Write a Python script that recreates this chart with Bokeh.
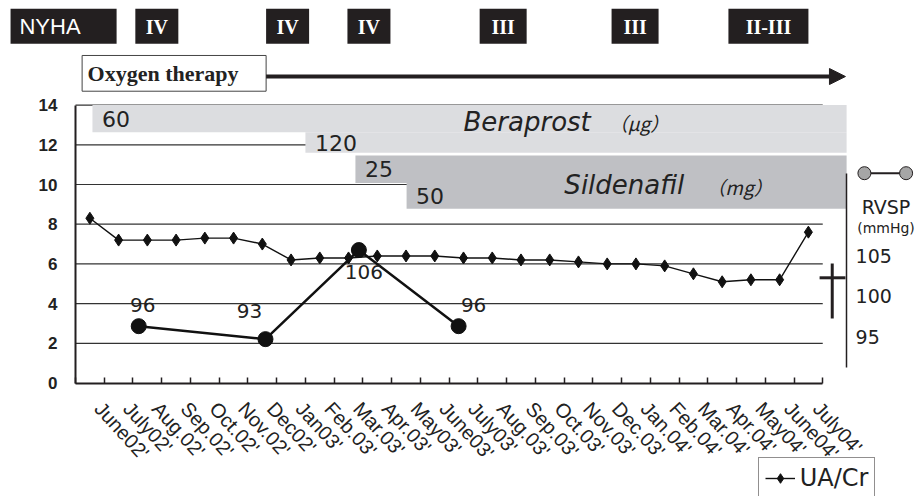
import math
from bokeh.plotting import figure
from bokeh.models import (Range1d, LinearAxis, FixedTicker, ColumnDataSource,
                          Legend, LegendItem, Arrow, NormalHead)
from bokeh.core.properties import value
from bokeh.embed import file_html
from bokeh.resources import INLINE

# ---------------- data ----------------
months = ["June02'", "July02'", "Aug.02'", "Sep.02'", "Oct.02'", "Nov.02'", "Dec02'",
          "Jan03'", "Feb.03'", "Mar.03'", "Apr.03'", "May03'", "June03'", "July03'",
          "Aug.03'", "Sep.03'", "Oct.03'", "Nov.03'", "Dec.03'", "Jan.04'", "Feb.04'",
          "Mar.04'", "Apr.04'", "May04'", "June04'", "July04'"]
ua_cr = [8.3, 7.2, 7.2, 7.2, 7.3, 7.3, 7.0, 6.2, 6.3, 6.3, 6.4, 6.4, 6.4,
         6.3, 6.3, 6.2, 6.2, 6.1, 6.0, 6.0, 5.9, 5.5, 5.1, 5.2, 5.2, 7.6]

rvsp_month = [2.20, 6.61, 9.86, 13.33]          # position on month axis
rvsp_reading = [96.3, 94.7, 105.7, 96.3]        # as read on the RVSP axis
rvsp_labels = ["96", "93", "106", "96"]

nyha_class = ["IV", "IV", "IV", "III", "III", "II-III"]
nyha_month = [2.83, 7.38, 10.21, 14.88, 19.47, 24.11]

oxygen_start = 0.23

beraprost_start = [0.59, 8.0]
beraprost_dose = ["60", "120"]
sildenafil_start = [9.74, 11.52]
sildenafil_dose = ["25", "50"]

left_ticks = [0, 2, 4, 6, 8, 10, 12, 14]
rvsp_ticks = [95, 100, 105]

ref_low, ref_mid, ref_high = 3.25, 5.3, 6.02

# ---------------- layout / style ----------------
PXX = 28.74   # px per month
N = len(months)
XR = 26.83    # right edge of treatment bars / RVSP axis
BLACK = "#231f20"
LABEL_SHIFT = 0.3

p = figure(width=921, height=496,
           x_range=Range1d(-2.6096, 29.436), y_range=Range1d(-5.718, 19.270),
           x_axis_type=None, y_axis_type=None, output_backend="svg",
           toolbar_location=None, min_border=0)
p.outline_line_color = None
p.background_fill_color = "white"
p.border_fill_color = "white"
p.extra_y_ranges = {"rvsp": Range1d(75.27, 136.51)}

centers = [i + 0.5 for i in range(N)]

# gridlines
grid_y = [t for t in left_ticks if t > 0]
p.segment(x0=[0] * len(grid_y), x1=[N] * len(grid_y), y0=grid_y, y1=grid_y,
          line_color="#333333", line_width=1.2)

# treatment bars
ber_top = [14.0, 12.63]
ber_bot = [12.63, 11.6]
sil_top = [11.46, 10.07]
sil_bot = [10.07, 8.78]
p.quad(left=beraprost_start, right=[XR] * 2, top=ber_top, bottom=ber_bot,
       fill_color="#dcdde0", line_color=None)
p.quad(left=sildenafil_start, right=[XR] * 2, top=sil_top, bottom=sil_bot,
       fill_color="#bfc0c4", line_color=None)
dose_x = [s + 0.33 for s in beraprost_start + sildenafil_start]
dose_y = [(a + b) / 2 for a, b in zip(ber_top + sil_top, ber_bot + sil_bot)]
p.text(x=dose_x, y=dose_y, text=beraprost_dose + sildenafil_dose,
       text_font=value("DejaVu Sans"), text_font_size="22px", text_color="#222222",
       text_align="left", text_baseline="middle")
p.text(x=[13.5, 17.01], y=[13.16, 9.95], text=["Beraprost", "Sildenafil"],
       text_font=value("DejaVu Sans"), text_font_style="italic", text_font_size="26px",
       text_color="#222222", text_align="left", text_baseline="middle")
p.text(x=[18.55, 21.95], y=[13.12, 9.9], text=["（μg）", "（mg）"],
       text_font=value("Noto Sans CJK JP"), text_font_style="italic", text_font_size="19px",
       text_color="#222222", text_align="left", text_baseline="middle")

# NYHA row
box_w = {"IV": 43, "III": 47, "II-III": 80}
nyha_l = [m - box_w[c] / 2 / PXX for m, c in zip(nyha_month, nyha_class)]
nyha_r = [m + box_w[c] / 2 / PXX for m, c in zip(nyha_month, nyha_class)]
p.quad(left=[-2.26] + nyha_l, right=[1.43] + nyha_r, top=18.85, bottom=17.09,
       fill_color=BLACK, line_color=None)
p.text(x=nyha_month, y=17.93, text=nyha_class, text_color="white",
       text_font=value("Liberation Serif"), text_font_style="bold", text_font_size="20px",
       text_align="center", text_baseline="middle")
p.text(x=[-1.95], y=[17.95], text=["NYHA"], text_color="white",
       text_font=value("Liberation Sans"), text_font_size="22px",
       text_align="left", text_baseline="middle")

# oxygen therapy
ox_right = oxygen_start + 184 / PXX
p.quad(left=[oxygen_start], right=[ox_right], top=16.5, bottom=14.7,
       fill_color="white", line_color="#444444", line_width=1)
p.text(x=[oxygen_start + 0.19], y=[15.58], text=["Oxygen therapy"],
       text_font=value("Liberation Serif"), text_font_style="bold", text_font_size="22px",
       text_color="#222222", text_align="left", text_baseline="middle")
p.add_layout(Arrow(end=NormalHead(size=16, fill_color=BLACK, line_color=BLACK),
                   x_start=ox_right, y_start=15.44, x_end=26.79, y_end=15.44,
                   line_width=4, line_color=BLACK))

# UA/Cr series
ua_line = p.line(x=centers, y=ua_cr, line_color="#111111", line_width=1.4)
ua_pts = p.scatter(x=centers, y=ua_cr, marker="diamond", size=12,
                   fill_color="#111111", line_color="#111111")

# RVSP series
rsrc = ColumnDataSource(dict(x=rvsp_month, y=rvsp_reading, t=rvsp_labels,
                             dx=[4, -16, 5, 15], dy=[-21, -28, 22, -21]))
p.line(x="x", y="y", source=rsrc, y_range_name="rvsp", line_color="#111111", line_width=2.5)
p.scatter(x="x", y="y", source=rsrc, y_range_name="rvsp", marker="circle", size=15,
          fill_color="#111111", line_color="#111111")
p.text(x="x", y="y", text="t", x_offset="dx", y_offset="dy", source=rsrc,
       y_range_name="rvsp", text_font=value("DejaVu Sans"), text_font_size="20px",
       text_color="#222222", text_align="center", text_baseline="middle")

# reference marker near RVSP axis
p.segment(x0=[26.33, 25.89], x1=[26.33, 26.79], y0=[ref_low, ref_mid], y1=[ref_high, ref_mid],
          line_color=BLACK, line_width=3)

# RVSP legend
p.segment(x0=[27.45], x1=[28.9], y0=[10.57], y1=[10.57], line_color=BLACK, line_width=2)
p.scatter(x=[27.45, 28.9], y=[10.57, 10.57], marker="circle", size=13,
          fill_color="#a6a6a6", line_color=BLACK, line_width=1)
p.text(x=[28.2], y=[8.87], text=["RVSP"], text_font=value("DejaVu Sans"),
       text_font_size="19px", text_color="#222222", text_align="center", text_baseline="middle")
p.text(x=[28.2], y=[7.83], text=["(mmHg)"], text_font=value("DejaVu Sans"),
       text_font_size="14px", text_color="#222222", text_align="center", text_baseline="middle")

# axes
label_pos = [c + LABEL_SHIFT for c in centers]
xaxis = LinearAxis(fixed_location=0, bounds=(0, N),
                   ticker=FixedTicker(ticks=label_pos, minor_ticks=list(range(N + 1))),
                   major_label_overrides={c: m for c, m in zip(label_pos, months)},
                   major_label_orientation=-0.83)
xaxis.axis_line_color = BLACK
xaxis.axis_line_width = 2
xaxis.major_tick_line_color = None
xaxis.major_tick_in = 0
xaxis.major_tick_out = 0
xaxis.minor_tick_in = 6
xaxis.minor_tick_out = 0
xaxis.minor_tick_line_color = BLACK
xaxis.minor_tick_line_width = 1.5
xaxis.major_label_standoff = 22
xaxis.major_label_text_font = "Liberation Sans"
xaxis.major_label_text_font_size = "20px"
xaxis.major_label_text_color = "#222222"
p.add_layout(xaxis, "below")

yaxis = LinearAxis(fixed_location=0, bounds=(0, 14), ticker=FixedTicker(ticks=left_ticks))
yaxis.axis_line_color = BLACK
yaxis.axis_line_width = 2
yaxis.major_tick_in = 0
yaxis.major_tick_out = 0
yaxis.minor_tick_line_color = None
yaxis.major_label_standoff = 18
yaxis.major_label_text_font = "Liberation Sans"
yaxis.major_label_text_font_style = "bold"
yaxis.major_label_text_font_size = "17px"
yaxis.major_label_text_color = "#222222"
p.add_layout(yaxis, "left")

raxis = LinearAxis(y_range_name="rvsp", fixed_location=XR, bounds=(91.2, 115.15),
                   ticker=FixedTicker(ticks=rvsp_ticks))
raxis.axis_line_color = BLACK
raxis.axis_line_width = 1.5
raxis.major_tick_in = 0
raxis.major_tick_out = 0
raxis.minor_tick_line_color = None
raxis.major_label_standoff = 9
raxis.major_label_text_font = "DejaVu Sans"
raxis.major_label_text_font_size = "19px"
raxis.major_label_text_color = "#222222"
p.add_layout(raxis, "right")

legend = Legend(items=[LegendItem(label="UA/Cr", renderers=[ua_line, ua_pts])],
                location=(757.7, -3.3), padding=6, margin=0, glyph_width=30,
                glyph_height=24, label_height=24, label_standoff=5,
                label_text_font="DejaVu Sans", label_text_font_size="24px",
                label_text_color="#222222", border_line_color=BLACK, border_line_width=1.2,
                background_fill_color="white", background_fill_alpha=1.0)
p.add_layout(legend)

open("out.html", "w").write(file_html(p, INLINE))
